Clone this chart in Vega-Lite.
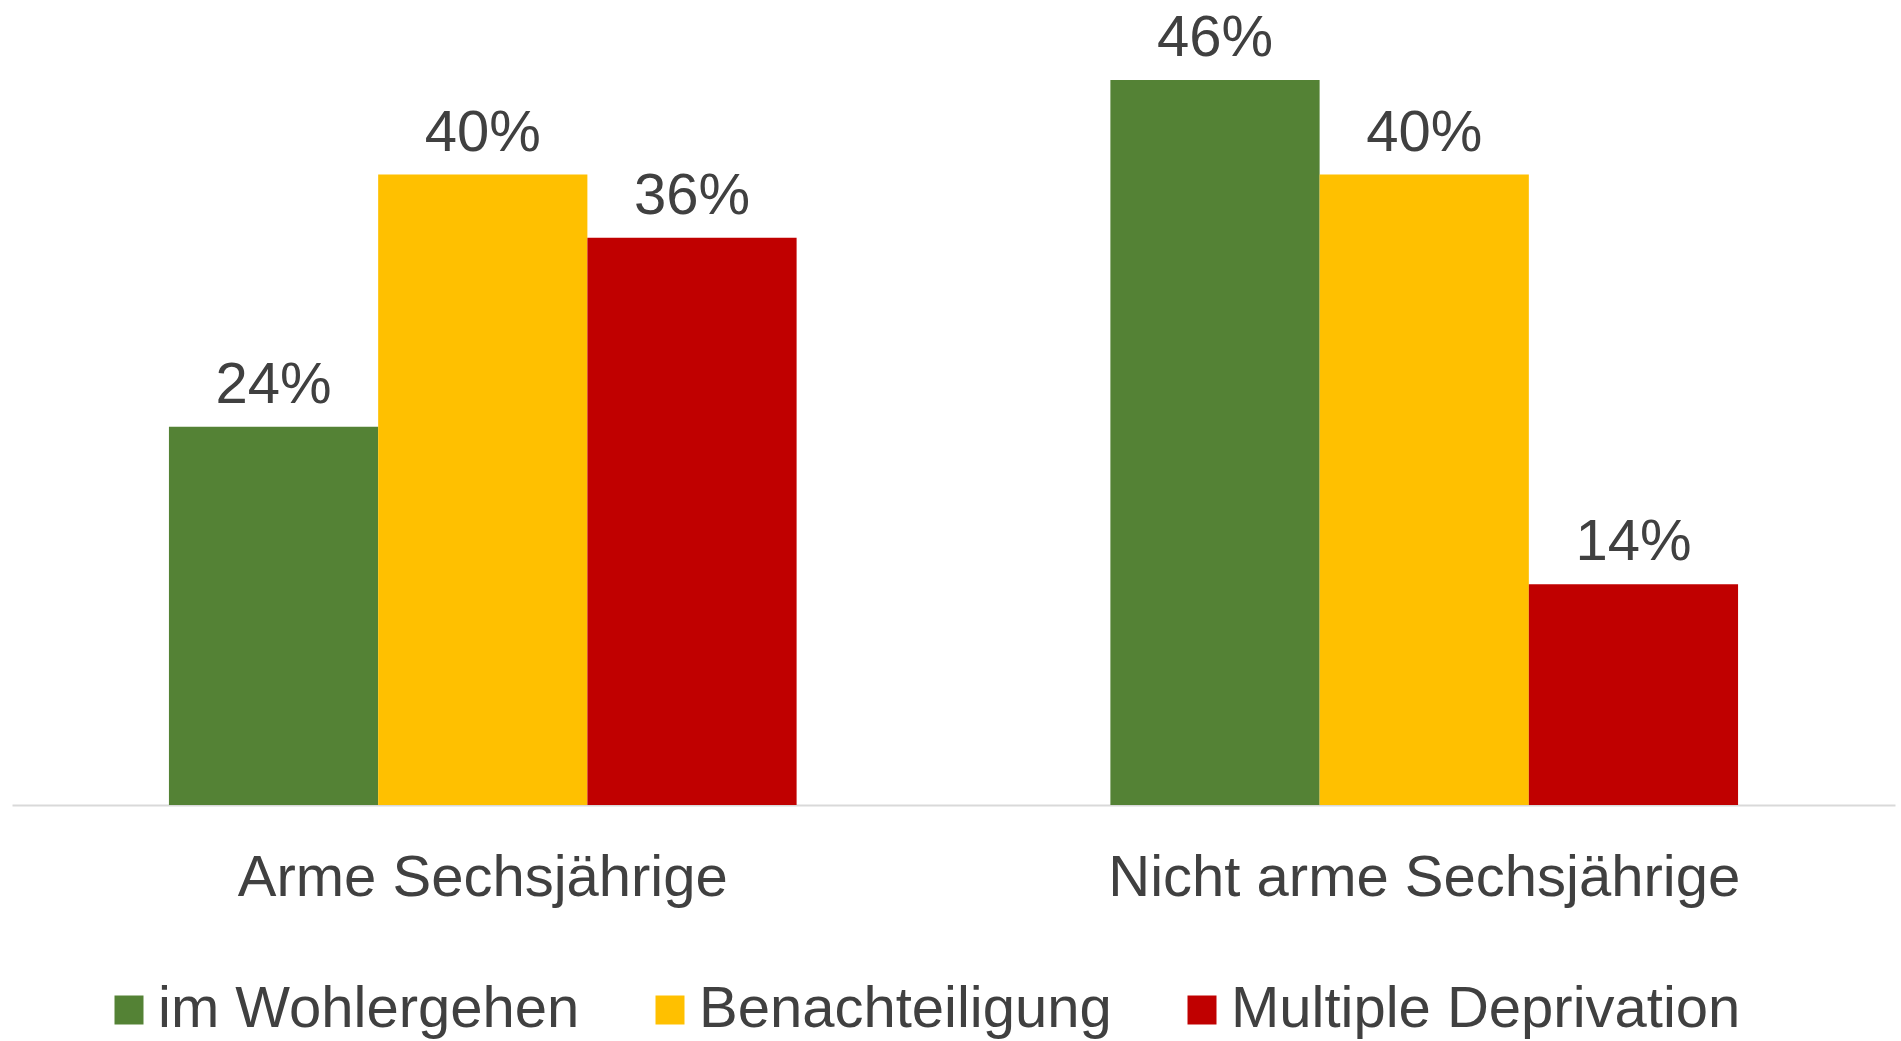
{
  "$schema": "https://vega.github.io/schema/vega-lite/v6.json",
  "autosize": {"type": "none"},
  "width": 1883,
  "height": 788,
  "padding": {"left": 12, "top": 17, "right": 6, "bottom": 236},
  "background": "white",
  "config": {
    "view": {"stroke": null},
    "font": "Liberation Sans",
    "text": {"font": "Liberation Sans"}
  },
  "data": {
    "values": [
      {"gruppe": "Arme Sechsjährige", "kategorie": "im Wohlergehen", "anteil": 0.24},
      {"gruppe": "Arme Sechsjährige", "kategorie": "Benachteiligung", "anteil": 0.40},
      {"gruppe": "Arme Sechsjährige", "kategorie": "Multiple Deprivation", "anteil": 0.36},
      {"gruppe": "Nicht arme Sechsjährige", "kategorie": "im Wohlergehen", "anteil": 0.46},
      {"gruppe": "Nicht arme Sechsjährige", "kategorie": "Benachteiligung", "anteil": 0.40},
      {"gruppe": "Nicht arme Sechsjährige", "kategorie": "Multiple Deprivation", "anteil": 0.14}
    ]
  },
  "encoding": {
    "x": {
      "field": "gruppe",
      "type": "nominal",
      "sort": ["Arme Sechsjährige", "Nicht arme Sechsjährige"],
      "scale": {"paddingInner": 0.3333, "paddingOuter": 0.1667},
      "axis": {
        "title": null,
        "labelAngle": 0,
        "labelFontSize": 58,
        "labelColor": "#404040",
        "labelFont": "Liberation Sans",
        "labelPadding": 44,
        "labelLimit": 0,
        "ticks": false,
        "tickSize": 0,
        "domainColor": "#D9D9D9",
        "domainWidth": 2,
        "grid": false
      }
    },
    "xOffset": {
      "field": "kategorie",
      "type": "nominal",
      "sort": ["im Wohlergehen", "Benachteiligung", "Multiple Deprivation"],
      "scale": {"paddingInner": 0, "paddingOuter": 0}
    },
    "y": {
      "field": "anteil",
      "type": "quantitative",
      "scale": {"domain": [0, 0.5], "nice": false},
      "axis": null
    }
  },
  "layer": [
    {
      "mark": {"type": "bar"},
      "encoding": {
        "color": {
          "field": "kategorie",
          "type": "nominal",
          "sort": ["im Wohlergehen", "Benachteiligung", "Multiple Deprivation"],
          "scale": {
            "domain": ["im Wohlergehen", "Benachteiligung", "Multiple Deprivation"],
            "range": ["#548235", "#FFC000", "#C00000"]
          },
          "legend": {
            "title": null,
            "orient": "none",
            "direction": "horizontal",
            "legendX": 88,
            "legendY": 964,
            "padding": 0,
            "symbolType": "square",
            "symbolSize": 841,
            "symbolStrokeWidth": 0,
            "symbolOpacity": 1,
            "labelFontSize": 58,
            "labelColor": "#404040",
            "labelFont": "Liberation Sans",
            "labelOffset": 0,
            "labelLimit": 1000,
            "columnPadding": 61
          }
        }
      }
    },
    {
      "mark": {
        "type": "text",
        "baseline": "alphabetic",
        "align": "center",
        "dy": -24,
        "fontSize": 58,
        "color": "#404040",
        "font": "Liberation Sans"
      },
      "encoding": {
        "text": {"field": "anteil", "type": "quantitative", "format": ".0%"}
      }
    }
  ]
}
